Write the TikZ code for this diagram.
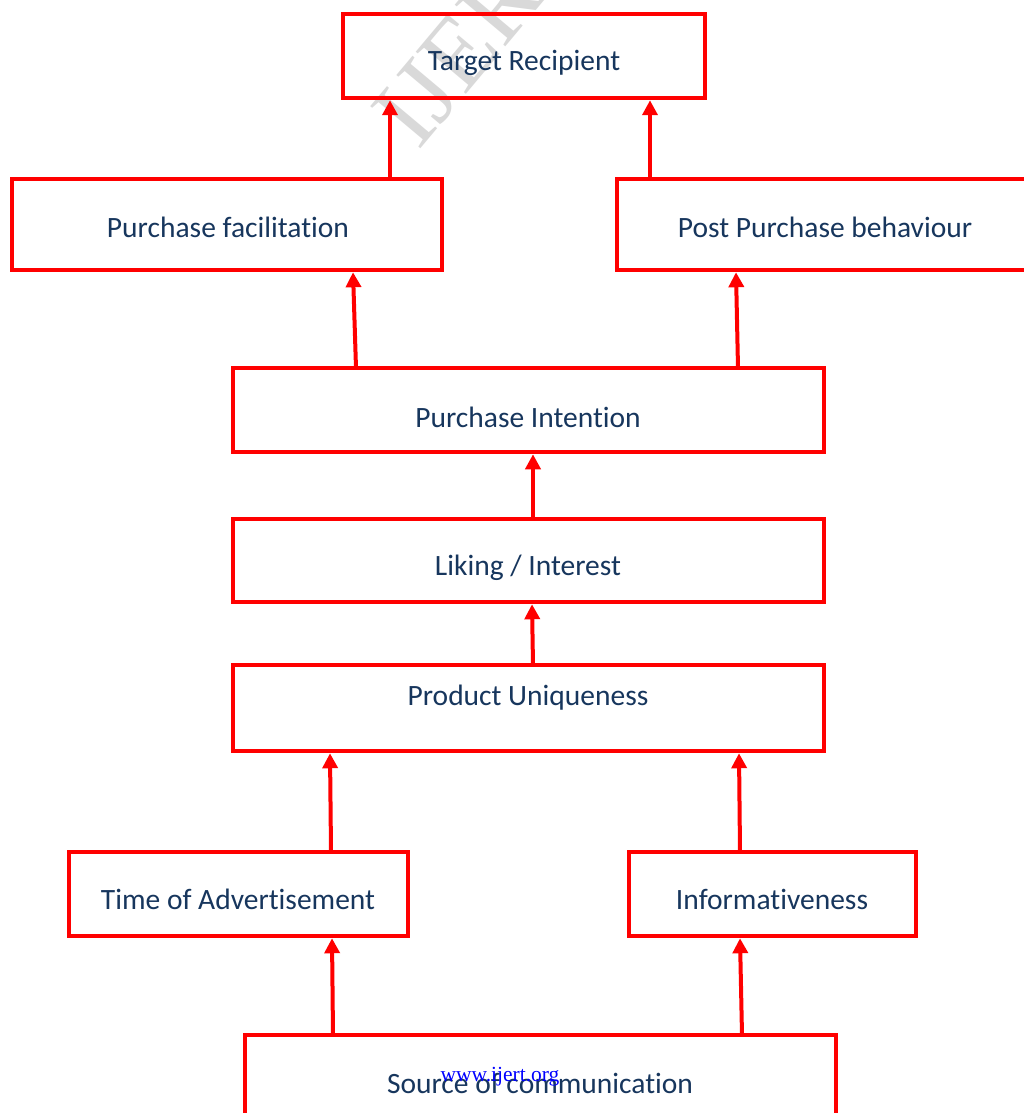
\documentclass[tikz,border=0pt]{standalone}
\usepackage{fontspec}
\setmainfont[RawFeature={-liga}]{Carlito}
\newfontfamily\wmfont{Liberation Serif}
\usetikzlibrary{arrows.meta}
\definecolor{boxred}{RGB}{255,0,0}
\definecolor{txtblue}{RGB}{23,54,93}
\tikzset{
  box/.style={draw=boxred, line width=4.5pt, rectangle, inner sep=0pt},
  txt/.style={text=txtblue, font=\fontsize{29.5}{33}\selectfont, inner sep=0pt},
  arr/.style={draw=boxred, line width=4pt, -{Triangle[length=15pt,width=15pt]}, shorten >=0pt},
}
\begin{document}
\begin{tikzpicture}[x=1pt,y=-1pt]
\useasboundingbox (0,0) rectangle (1024,1113);
\clip (0,0) rectangle (1024,1113);
\fill[white] (0,0) rectangle (1024,1113);
% watermark
\node[text=gray!30, font=\wmfont\fontsize{100}{100}\selectfont, rotate=50, inner sep=0pt, anchor=base west] (wm) at (418,152) {IJERT};
% boxes
\node[box, minimum width=362pt, minimum height=84pt] (tr) at (524,56) {};
\node[box, minimum width=430pt, minimum height=91pt] (pf) at (227,224.5) {};
\node[box, minimum width=416pt, minimum height=91pt] (pp) at (825,224.5) {};
\node[box, minimum width=591pt, minimum height=84pt] (pi) at (528.5,410) {};
\node[box, minimum width=591pt, minimum height=83pt] (li) at (528.5,560.5) {};
\node[box, minimum width=591pt, minimum height=86pt] (pu) at (528.5,708) {};
\node[box, minimum width=339pt, minimum height=84pt] (ta) at (238.5,894) {};
\node[box, minimum width=287pt, minimum height=84pt] (in) at (772.5,894) {};
\node[box, minimum width=591pt, minimum height=90pt] (sc) at (540.5,1080) {};
% texts
\node[txt] (trt) at (524,63) {Target Recipient};
\node[txt] (pft) at (228,227) {Purchase facilitation};
\node[txt] (ppt) at (825,227) {Post Purchase behaviour};
\node[txt] (pit) at (528,417) {Purchase Intention};
\node[txt] (lit) at (528,568) {Liking / Interest};
\node[txt] (put) at (528,698) {Product Uniqueness};
\node[txt] (tat) at (238,899) {Time of Advertisement};
\node[txt] (int) at (772,899) {Informativeness};
\node[txt] (sct) at (540,1083) {Source of communication};
\node[text=blue, font=\wmfont\fontsize{21.5}{23}\selectfont, inner sep=0pt] (url) at (500,1077) {www.ijert.org};
% connectors
\coordinate (a1s) at (390,181); \coordinate (a1e) at (390,96);
\coordinate (a2s) at (650,181); \coordinate (a2e) at (650,96);
\draw[arr] (pf.north -| a1s) -- (tr.south -| a1e);
\draw[arr] (pp.north -| a2s) -- (tr.south -| a2e);
\draw[arr] (356,368) -- (pf.south -| 353,0);
\draw[arr] (738,368) -- (pp.south -| 736,0);
\draw[arr] (533,519) -- (pi.south -| 533,0);
\draw[arr] (533,665) -- (li.south -| 532,0);
\draw[arr] (331,851) -- (pu.south -| 330,0);
\draw[arr] (740,851) -- (pu.south -| 739,0);
\draw[arr] (333,1035) -- (ta.south -| 332,0);
\draw[arr] (742,1035) -- (in.south -| 740,0);
\end{tikzpicture}
\end{document}
